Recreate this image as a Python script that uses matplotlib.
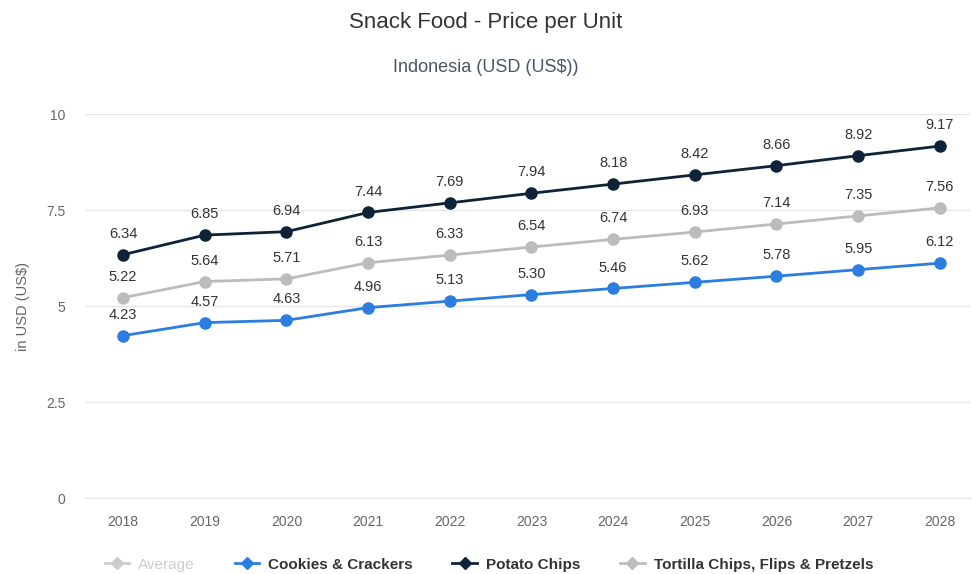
import matplotlib
matplotlib.use('Agg')
import matplotlib.pyplot as plt
from matplotlib.lines import Line2D

plt.rcParams['font.family'] = ['Liberation Sans', 'DejaVu Sans']

years = [2018, 2019, 2020, 2021, 2022, 2023, 2024, 2025, 2026, 2027, 2028]
cookies = [4.23, 4.57, 4.63, 4.96, 5.13, 5.30, 5.46, 5.62, 5.78, 5.95, 6.12]
potato = [6.34, 6.85, 6.94, 7.44, 7.69, 7.94, 8.18, 8.42, 8.66, 8.92, 9.17]
tortilla = [5.22, 5.64, 5.71, 6.13, 6.33, 6.54, 6.74, 6.93, 7.14, 7.35, 7.56]
yticks = [0, 2.5, 5, 7.5, 10]
ytick_labels = ['0', '2.5', '5', '7.5', '10']

c_cookies = '#2b7de0'
c_potato = '#0e2238'
c_tortilla = '#bcbcbc'
c_avg = '#cccccc'

fig = plt.figure(figsize=(9.72, 5.74), dpi=100)
ax = fig.add_axes([0.0875, 0.1324, 0.9105, 0.6686])

series = [(tortilla, c_tortilla), (cookies, c_cookies), (potato, c_potato)]
for vals, col in series:
    ax.plot(years, vals, color=col, lw=2, marker='o', ms=8, zorder=3)
    for x, y in zip(years, vals):
        ax.annotate(f'{y:.2f}', (x, y), xytext=(0, 10), textcoords='offset points',
                    ha='center', va='bottom', fontsize=10.5, color='#333333')

ax.set_xlim(2017.535, 2028.37)
ax.set_ylim(0, 10)
ax.set_yticks(yticks)
ax.set_yticklabels(ytick_labels)
ax.set_xticks(years)
ax.grid(axis='y', color='#e6e6e6', lw=1)
ax.set_axisbelow(True)
for s in ['top', 'right', 'left']:
    ax.spines[s].set_visible(False)
ax.spines['bottom'].set_color('#e6e6e6')
ax.tick_params(axis='both', length=0, labelsize=10, colors='#666666')
ax.tick_params(axis='x', pad=12)
ax.tick_params(axis='y', pad=14)
ax.set_ylabel('in USD (US$)', fontsize=10.5, color='#666666', labelpad=12)

fig.text(0.5, 0.960, 'Snack Food - Price per Unit', ha='center', va='center',
         fontsize=16, color='#333333')
fig.text(0.5, 0.883, 'Indonesia (USD (US$))', ha='center', va='center',
         fontsize=13, color='#4a5568')

handles = [
    Line2D([], [], color=c_avg, marker='D', ms=6, lw=2),
    Line2D([], [], color=c_cookies, marker='D', ms=6, lw=2),
    Line2D([], [], color=c_potato, marker='D', ms=6, lw=2),
    Line2D([], [], color=c_tortilla, marker='D', ms=6, lw=2),
]
labels = ['Average', 'Cookies & Crackers', 'Potato Chips', 'Tortilla Chips, Flips & Pretzels']
leg = fig.legend(handles, labels, loc='center', bbox_to_anchor=(0.503, 0.016), ncol=4,
                 frameon=False, fontsize=11, handlelength=1.6, columnspacing=2.6,
                 handletextpad=0.6)
for i, t in enumerate(leg.get_texts()):
    if i == 0:
        t.set_color(c_avg)
    else:
        t.set_color('#333333')
        t.set_fontweight('bold')

fig.savefig('out.png', dpi=100)
